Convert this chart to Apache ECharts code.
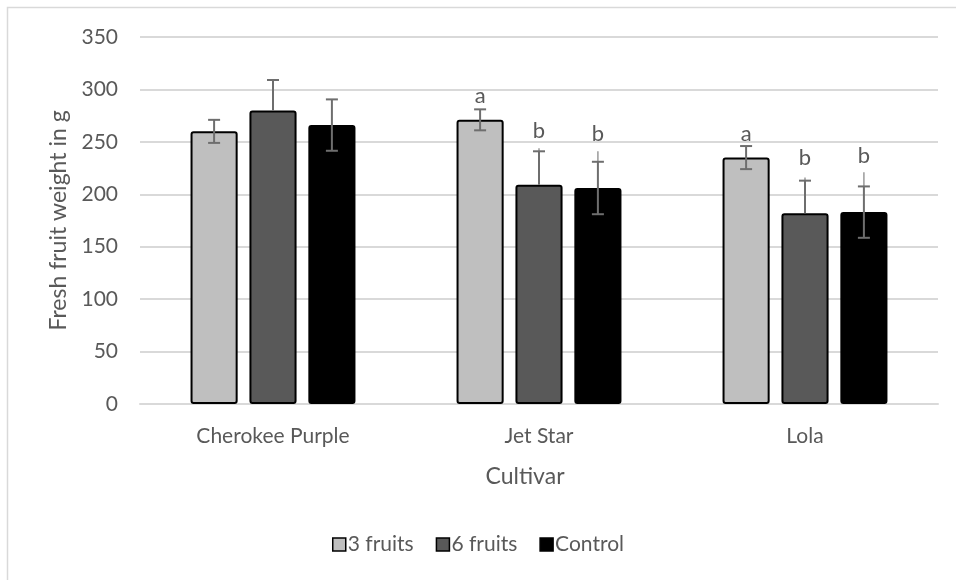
<!DOCTYPE html>
<html>
<head>
<meta charset="utf-8">
<script src="https://cdn.jsdelivr.net/npm/echarts@6/dist/echarts.min.js"></script>
<style>
  html, body { margin: 0; padding: 0; background: #fff; }
  #chart { width: 956px; height: 580px; }
</style>
</head>
<body>
<div id="chart"></div>
<script>
var cultivars = ['Cherokee Purple', 'Jet Star', 'Lola'];
var seriesNames = ['3 fruits', '6 fruits', 'Control'];
var yTicks = [0, 50, 100, 150, 200, 250, 300, 350];

// mean fresh fruit weight (g)
var fruits3 = [260, 271, 235];
var fruits6 = [280, 209, 182];
var control = [266, 206, 183];

// error bars: upper and lower lengths
var errPlus3 = [11, 10, 11];
var errMinus3 = [11, 10, 11];
var errPlus6 = [29, 32, 31];
var errMinus6 = [0, 0, 0];
var errPlusControl = [24.5, 25, 24.5];
var errMinusControl = [24.5, 25, 24.5];

// extra uncapped whisker top (null = none)
var stem3 = [null, null, null];
var stem6 = [null, 244, 216];
var stemControl = [null, 241, 221];

// significance letters and the value they sit at
var letters3 = ['', 'a', 'a'];
var letters6 = ['', 'b', 'b'];
var lettersControl = ['', 'b', 'b'];
var letterY3 = [0, 294, 258];
var letterY6 = [0, 260, 235];
var letterYControl = [0, 258, 237];

(function () {
    var values = [fruits3, fruits6, control];
    var errsUp = [errPlus3, errPlus6, errPlusControl];
    var errsDown = [errMinus3, errMinus6, errMinusControl];
    var stems = [stem3, stem6, stemControl];
    var letters = [letters3, letters6, lettersControl];
    var letterYs = [letterY3, letterY6, letterYControl];
    var colors = ['#bfbfbf', '#595959', '#000000'];
    var catGap = 0.38, barGap = 0.25;
    var font = 'Lato, "Open Sans", sans-serif';

    var errData = [];
    values.forEach(function (vals, s) {
        vals.forEach(function (v, i) {
            errData.push([i, s, v, errsUp[s][i], errsDown[s][i],
                stems[s][i] == null ? -1 : stems[s][i], letters[s][i], letterYs[s][i]]);
        });
    });

    function barCenter(api, cat, s) {
        var band = api.size([1, 0])[0];
        var bw = band * (1 - catGap) / (3 + 2 * barGap);
        var total = bw * 3 + bw * barGap * 2;
        var c = api.coord([cat, 0])[0];
        return { x: c - total / 2 + s * bw * (1 + barGap) + bw / 2, w: bw };
    }

    function renderErr(params, api) {
        var cat = api.value(0), s = api.value(1), v = api.value(2);
        var up = api.value(3), down = api.value(4);
        var stem = api.value(5), letter = api.value(6), ly = api.value(7);
        var b = barCenter(api, cat, s);
        var yTop = api.coord([cat, v + up])[1];
        var yBot = api.coord([cat, v - down])[1];
        var cap = 6;
        var children = [];
        if (stem > 0) {
            var ys = api.coord([cat, stem])[1];
            children.push({ type: 'line', shape: { x1: b.x, y1: ys, x2: b.x, y2: yTop },
                style: { stroke: '#9a9a9a', lineWidth: 1.5 } });
        }
        var st = { stroke: '#6e6e6e', lineWidth: 2 };
        children.push({ type: 'line', shape: { x1: b.x, y1: yTop, x2: b.x, y2: yBot }, style: st });
        children.push({ type: 'line', shape: { x1: b.x - cap, y1: yTop, x2: b.x + cap, y2: yTop }, style: st });
        if (down > 0) {
            children.push({ type: 'line', shape: { x1: b.x - cap, y1: yBot, x2: b.x + cap, y2: yBot }, style: st });
        }
        if (letter) {
            var p = api.coord([cat, ly]);
            children.push({ type: 'text', style: { x: b.x, y: p[1], text: letter, fill: '#595959',
                font: '22px ' + font, align: 'center', verticalAlign: 'middle' } });
        }
        return { type: 'group', children: children };
    }

    var series = values.map(function (vals, s) {
        return {
            name: seriesNames[s],
            type: 'bar',
            data: vals,
            barGap: (barGap * 100) + '%',
            barCategoryGap: (catGap * 100) + '%',
            itemStyle: { color: colors[s], borderColor: '#000', borderWidth: 2, borderRadius: 2 }
        };
    });
    series.push({
        type: 'custom',
        renderItem: renderErr,
        data: errData,
        z: 5,
        silent: true
    });

    var myChart = echarts.init(document.getElementById('chart'));
    myChart.setOption({
        animation: false,
        textStyle: { fontFamily: font },
        grid: { left: 140, right: 18, top: 37, bottom: 176 },
        graphic: [{
            type: 'rect',
            shape: { x: 7.5, y: 7.5, width: 1000, height: 1000 },
            style: { fill: 'none', stroke: '#d9d9d9', lineWidth: 1.5 },
            silent: true
        }, {
            type: 'text',
            x: 525, y: 477,
            style: { text: 'Cultivar', fill: '#595959', font: '23px ' + font,
                align: 'center', verticalAlign: 'middle' }
        }],
        legend: {
            data: seriesNames,
            bottom: 20,
            left: 'center',
            itemWidth: 13,
            itemHeight: 13,
            itemGap: 22,
            icon: 'rect',
            textStyle: { color: '#595959', fontSize: 21, padding: [0, 0, 0, -3] },
            itemStyle: { borderColor: '#000', borderWidth: 1.5 }
        },
        xAxis: {
            type: 'category',
            data: cultivars,
            axisLine: { lineStyle: { color: '#d9d9d9', width: 2 } },
            axisTick: { show: false },
            axisLabel: { color: '#595959', fontSize: 21, margin: 22 }
        },
        yAxis: {
            type: 'value',
            min: yTicks[0],
            max: yTicks[yTicks.length - 1],
            interval: 50,
            name: 'Fresh fruit weight in g',
            nameLocation: 'middle',
            nameGap: 66,
            nameTextStyle: { color: '#595959', fontSize: 23 },
            axisLine: { show: false },
            axisTick: { show: false },
            axisLabel: { color: '#595959', fontSize: 21, margin: 22 },
            splitLine: { lineStyle: { color: '#d9d9d9', width: 2 } }
        },
        series: series
    });
})();
</script>
</body>
</html>
